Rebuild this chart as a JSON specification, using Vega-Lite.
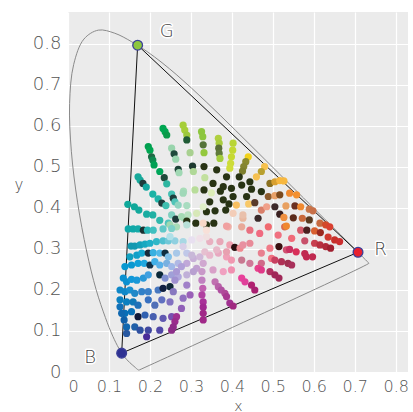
{
  "$schema": "https://vega.github.io/schema/vega-lite/v6.json",
  "width": 340,
  "height": 360,
  "autosize": {"type": "none"},
  "padding": {"left": 68, "top": 12, "right": 5, "bottom": 40},
  "background": "white",
  "config": {
    "view": {"fill": "#ebebeb", "stroke": null},
    "axis": {
      "domain": false, "ticks": false, "grid": true, "gridColor": "#ffffff", "gridWidth": 1.2,
      "labelFont": "DejaVu Sans", "labelFontSize": 18, "labelFontWeight": 200, "labelColor": "#555555",
      "titleFont": "DejaVu Sans", "titleFontSize": 15, "titleFontWeight": 200, "titleColor": "#444444"
    }
  },
  "layer": [
    {
      "data": {"values": [
        {"o":1,"x":0.1741,"y":0.0050},{"o":2,"x":0.1738,"y":0.0049},{"o":3,"x":0.1733,"y":0.0048},{"o":4,"x":0.1726,"y":0.0048},
        {"o":5,"x":0.1714,"y":0.0051},{"o":6,"x":0.1703,"y":0.0058},{"o":7,"x":0.1689,"y":0.0069},{"o":8,"x":0.1669,"y":0.0086},
        {"o":9,"x":0.1644,"y":0.0109},{"o":10,"x":0.1611,"y":0.0138},{"o":11,"x":0.1566,"y":0.0177},{"o":12,"x":0.1510,"y":0.0227},
        {"o":13,"x":0.1440,"y":0.0297},{"o":14,"x":0.1355,"y":0.0399},{"o":15,"x":0.1241,"y":0.0578},{"o":16,"x":0.1096,"y":0.0868},
        {"o":17,"x":0.0913,"y":0.1327},{"o":18,"x":0.0687,"y":0.2007},{"o":19,"x":0.0454,"y":0.2950},{"o":20,"x":0.0235,"y":0.4127},
        {"o":21,"x":0.0082,"y":0.5384},{"o":22,"x":0.0039,"y":0.6548},{"o":23,"x":0.0139,"y":0.7502},{"o":24,"x":0.0389,"y":0.8120},
        {"o":25,"x":0.0743,"y":0.8338},{"o":26,"x":0.1142,"y":0.8262},{"o":27,"x":0.1547,"y":0.8059},{"o":28,"x":0.1929,"y":0.7816},
        {"o":29,"x":0.2296,"y":0.7543},{"o":30,"x":0.2658,"y":0.7243},{"o":31,"x":0.3016,"y":0.6923},{"o":32,"x":0.3373,"y":0.6589},
        {"o":33,"x":0.3731,"y":0.6245},{"o":34,"x":0.4087,"y":0.5896},{"o":35,"x":0.4441,"y":0.5547},{"o":36,"x":0.4788,"y":0.5202},
        {"o":37,"x":0.5125,"y":0.4866},{"o":38,"x":0.5448,"y":0.4544},{"o":39,"x":0.5752,"y":0.4242},{"o":40,"x":0.6029,"y":0.3965},
        {"o":41,"x":0.6270,"y":0.3725},{"o":42,"x":0.6482,"y":0.3514},{"o":43,"x":0.6658,"y":0.3340},{"o":44,"x":0.6801,"y":0.3197},
        {"o":45,"x":0.6915,"y":0.3083},{"o":46,"x":0.7006,"y":0.2993},{"o":47,"x":0.7079,"y":0.2920},{"o":48,"x":0.7140,"y":0.2859},
        {"o":49,"x":0.7190,"y":0.2809},{"o":50,"x":0.7230,"y":0.2770},{"o":51,"x":0.7260,"y":0.2740},{"o":52,"x":0.7300,"y":0.2700},
        {"o":53,"x":0.7320,"y":0.2680},{"o":54,"x":0.7344,"y":0.2656},{"o":55,"x":0.7347,"y":0.2653},{"o":56,"x":0.1741,"y":0.0050}
      ]},
      "mark": {"type": "line", "color": "#8a8a8a", "strokeWidth": 1, "interpolate": "catmull-rom"},
      "encoding": {
        "x": {"field": "x", "type": "quantitative", "scale": {"domain": [0, 0.83], "nice": false, "zero": false},
              "axis": {"values": [0,0.1,0.2,0.3,0.4,0.5,0.6,0.7,0.8], "format": "~g", "labelFontSize": 16, "labelPadding": 6, "title": "x", "titleFontSize": 14, "titleY": 38, "titleBaseline": "alphabetic"}},
        "y": {"field": "y", "type": "quantitative", "scale": {"domain": [0, 0.878], "nice": false, "zero": false},
              "axis": {"values": [0,0.1,0.2,0.3,0.4,0.5,0.6,0.7,0.8], "format": "~g", "labelPadding": 7, "title": "y", "titleAngle": 0, "titlePadding": 14}},
        "order": {"field": "o", "type": "quantitative"}
      }
    },
    {
      "data": {"values": [
        {"o":1,"x":0.708,"y":0.292},{"o":2,"x":0.170,"y":0.797},{"o":3,"x":0.131,"y":0.046},{"o":4,"x":0.708,"y":0.292}
      ]},
      "mark": {"type": "line", "color": "#111111", "strokeWidth": 1},
      "encoding": {
        "x": {"field": "x", "type": "quantitative"},
        "y": {"field": "y", "type": "quantitative"},
        "order": {"field": "o", "type": "quantitative"}
      }
    },
    {
      "data": {"values": [
        {"x":0.232,"y":0.594,"c":"#00a651"},{"x":0.237,"y":0.586,"c":"#00a651"},{"x":0.241,"y":0.578,"c":"#0a9a4a"},
        {"x":0.281,"y":0.602,"c":"#a6ce39"},{"x":0.285,"y":0.590,"c":"#a6ce39"},{"x":0.290,"y":0.578,"c":"#9cc83c"},{"x":0.290,"y":0.566,"c":"#1f5a35"},
        {"x":0.326,"y":0.586,"c":"#8dc63f"},{"x":0.329,"y":0.574,"c":"#8dc63f"},{"x":0.330,"y":0.554,"c":"#55733a"},{"x":0.332,"y":0.535,"c":"#94c83d"},
        {"x":0.367,"y":0.570,"c":"#b0d040"},{"x":0.369,"y":0.558,"c":"#a8cc3e"},{"x":0.368,"y":0.546,"c":"#5a7038"},{"x":0.369,"y":0.533,"c":"#5f7a3a"},{"x":0.371,"y":0.521,"c":"#a3cd3c"},
        {"x":0.403,"y":0.558,"c":"#b9d535"},{"x":0.402,"y":0.541,"c":"#c3d833"},{"x":0.399,"y":0.525,"c":"#c6d932"},{"x":0.397,"y":0.509,"c":"#cddc39"},{"x":0.395,"y":0.497,"c":"#d0dd3a"},
        {"x":0.440,"y":0.525,"c":"#f2d21a"},{"x":0.434,"y":0.513,"c":"#8a8a2e"},{"x":0.429,"y":0.501,"c":"#858530"},{"x":0.426,"y":0.490,"c":"#7d7f2c"},
        {"x":0.196,"y":0.550,"c":"#009e4f"},{"x":0.200,"y":0.541,"c":"#00a651"},{"x":0.204,"y":0.525,"c":"#1e6a45"},{"x":0.207,"y":0.517,"c":"#0f8a50"},{"x":0.210,"y":0.505,"c":"#00a054"},
        {"x":0.224,"y":0.489,"c":"#00a65a"},{"x":0.235,"y":0.474,"c":"#1e4a3a"},{"x":0.241,"y":0.459,"c":"#2db6a0"},
        {"x":0.253,"y":0.546,"c":"#98d4ac"},{"x":0.259,"y":0.532,"c":"#1e4a3c"},{"x":0.263,"y":0.519,"c":"#9ad6b0"},{"x":0.269,"y":0.494,"c":"#1e4438"},{"x":0.271,"y":0.486,"c":"#a0d8b4"},{"x":0.282,"y":0.441,"c":"#a8dcb8"},
        {"x":0.298,"y":0.535,"c":"#a8d090"},{"x":0.304,"y":0.502,"c":"#1e3a30"},{"x":0.306,"y":0.489,"c":"#b0d898"},
        {"x":0.332,"y":0.501,"c":"#283314"},{"x":0.334,"y":0.474,"c":"#c2e09e"},{"x":0.332,"y":0.444,"c":"#283314"},{"x":0.350,"y":0.437,"c":"#dcecb8"},
        {"x":0.363,"y":0.493,"c":"#283314"},{"x":0.387,"y":0.476,"c":"#283314"},{"x":0.418,"y":0.476,"c":"#283314"},{"x":0.444,"y":0.464,"c":"#283314"},
        {"x":0.354,"y":0.460,"c":"#283314"},{"x":0.379,"y":0.452,"c":"#283314"},{"x":0.399,"y":0.448,"c":"#283314"},{"x":0.424,"y":0.456,"c":"#283314"},{"x":0.448,"y":0.446,"c":"#283314"},
        {"x":0.372,"y":0.441,"c":"#283314"},{"x":0.403,"y":0.428,"c":"#283314"},{"x":0.436,"y":0.428,"c":"#283314"},{"x":0.379,"y":0.420,"c":"#283314"},
        {"x":0.359,"y":0.393,"c":"#283314"},{"x":0.338,"y":0.391,"c":"#283314"},{"x":0.385,"y":0.395,"c":"#283314"},{"x":0.393,"y":0.410,"c":"#283314"},
        {"x":0.310,"y":0.444,"c":"#b8dd9a"},{"x":0.314,"y":0.387,"c":"#d7e8b8"},
        {"x":0.171,"y":0.476,"c":"#17a99a"},{"x":0.176,"y":0.468,"c":"#17a99a"},{"x":0.183,"y":0.460,"c":"#1e3c3c"},{"x":0.191,"y":0.451,"c":"#14a8a0"},
        {"x":0.207,"y":0.434,"c":"#1db3a5"},{"x":0.220,"y":0.422,"c":"#20b4a8"},{"x":0.229,"y":0.412,"c":"#1e3c3c"},{"x":0.239,"y":0.406,"c":"#3fbfb0"},
        {"x":0.253,"y":0.434,"c":"#45c0b4"},{"x":0.257,"y":0.424,"c":"#1e3e3e"},{"x":0.261,"y":0.415,"c":"#50c4b8"},{"x":0.269,"y":0.407,"c":"#90d4c0"},
        {"x":0.281,"y":0.436,"c":"#a0d8b8"},{"x":0.290,"y":0.406,"c":"#a8dcc0"},
        {"x":0.146,"y":0.409,"c":"#10a89a"},{"x":0.162,"y":0.403,"c":"#10a89a"},{"x":0.173,"y":0.395,"c":"#12a99c"},{"x":0.192,"y":0.385,"c":"#18aca0"},
        {"x":0.207,"y":0.383,"c":"#20b0a4"},{"x":0.224,"y":0.370,"c":"#30b8ac"},{"x":0.245,"y":0.363,"c":"#50c4bc"},
        {"x":0.253,"y":0.383,"c":"#80d0c0"},{"x":0.263,"y":0.373,"c":"#1e3a3a"},{"x":0.283,"y":0.376,"c":"#a0d8bc"},{"x":0.277,"y":0.379,"c":"#a4d9b4"},
        {"x":0.293,"y":0.383,"c":"#b8e0c0"},{"x":0.330,"y":0.403,"c":"#e0f0c8"},{"x":0.346,"y":0.415,"c":"#283314"},
        {"x":0.290,"y":0.368,"c":"#283314"},{"x":0.312,"y":0.363,"c":"#283314"},{"x":0.338,"y":0.359,"c":"#283314"},{"x":0.356,"y":0.363,"c":"#283314"},
        {"x":0.249,"y":0.359,"c":"#a0d8b0"},{"x":0.265,"y":0.354,"c":"#a8dcb8"},
        {"x":0.147,"y":0.349,"c":"#10a8a8"},{"x":0.159,"y":0.349,"c":"#10a8a8"},{"x":0.171,"y":0.349,"c":"#14aaa8"},{"x":0.184,"y":0.346,"c":"#1a3030"},
        {"x":0.194,"y":0.346,"c":"#28b4b4"},{"x":0.208,"y":0.346,"c":"#40c0c0"},{"x":0.232,"y":0.349,"c":"#60c8c8"},{"x":0.253,"y":0.350,"c":"#7dd0c8"},{"x":0.290,"y":0.359,"c":"#b8e0d8"},
        {"x":0.154,"y":0.307,"c":"#1298b0"},{"x":0.163,"y":0.307,"c":"#1298b0"},{"x":0.176,"y":0.310,"c":"#15a0b8"},{"x":0.188,"y":0.312,"c":"#18a8c0"},
        {"x":0.200,"y":0.314,"c":"#20b0c8"},{"x":0.216,"y":0.318,"c":"#30b8c8"},{"x":0.232,"y":0.320,"c":"#50c0d0"},{"x":0.245,"y":0.320,"c":"#70c8d8"},
        {"x":0.261,"y":0.320,"c":"#90d0e0"},{"x":0.281,"y":0.318,"c":"#a8d8e4"},
        {"x":0.151,"y":0.281,"c":"#10a0c0"},{"x":0.168,"y":0.285,"c":"#10a0c8"},{"x":0.180,"y":0.290,"c":"#18a8d0"},{"x":0.196,"y":0.290,"c":"#1a2a3a"},
        {"x":0.208,"y":0.291,"c":"#38b0e0"},{"x":0.224,"y":0.290,"c":"#50b8e8"},{"x":0.237,"y":0.290,"c":"#103040"},{"x":0.245,"y":0.281,"c":"#80c0e8"},
        {"x":0.265,"y":0.290,"c":"#a8c8e8"},{"x":0.290,"y":0.290,"c":"#c0c8e8"},
        {"x":0.139,"y":0.257,"c":"#0898d0"},{"x":0.155,"y":0.261,"c":"#0898d0"},{"x":0.171,"y":0.265,"c":"#10a0d8"},{"x":0.186,"y":0.265,"c":"#20a8e0"},
        {"x":0.200,"y":0.261,"c":"#103048"},{"x":0.212,"y":0.269,"c":"#40b0e8"},{"x":0.224,"y":0.261,"c":"#58b0e8"},{"x":0.241,"y":0.265,"c":"#78b0e0"},
        {"x":0.253,"y":0.257,"c":"#a0b8e8"},{"x":0.269,"y":0.265,"c":"#b0b8e4"},
        {"x":0.135,"y":0.229,"c":"#0a90d0"},{"x":0.143,"y":0.220,"c":"#0a90d0"},{"x":0.155,"y":0.226,"c":"#1098d8"},{"x":0.168,"y":0.224,"c":"#1898d8"},
        {"x":0.184,"y":0.229,"c":"#2898d8"},{"x":0.196,"y":0.237,"c":"#40a0e0"},{"x":0.224,"y":0.237,"c":"#0a2838"},{"x":0.237,"y":0.229,"c":"#8090d0"},
        {"x":0.253,"y":0.237,"c":"#a0a0d8"},{"x":0.269,"y":0.232,"c":"#b0a8dc"},{"x":0.290,"y":0.237,"c":"#c0b0d8"},
        {"x":0.127,"y":0.200,"c":"#1088c8"},{"x":0.139,"y":0.196,"c":"#1088c8"},{"x":0.151,"y":0.200,"c":"#1890d0"},{"x":0.163,"y":0.192,"c":"#2088c8"},
        {"x":0.180,"y":0.196,"c":"#3080c8"},{"x":0.196,"y":0.196,"c":"#3a80c8"},{"x":0.220,"y":0.200,"c":"#4878c0"},{"x":0.232,"y":0.204,"c":"#102040"},
        {"x":0.249,"y":0.208,"c":"#102838"},{"x":0.257,"y":0.196,"c":"#8878c0"},{"x":0.281,"y":0.180,"c":"#9070c0"},
        {"x":0.127,"y":0.176,"c":"#0a80c0"},{"x":0.143,"y":0.171,"c":"#0a80c0"},{"x":0.159,"y":0.171,"c":"#1078b8"},{"x":0.171,"y":0.163,"c":"#2070b8"},
        {"x":0.196,"y":0.176,"c":"#3870c0"},{"x":0.212,"y":0.163,"c":"#5070b8"},{"x":0.229,"y":0.176,"c":"#6070c0"},{"x":0.249,"y":0.171,"c":"#8070c0"},{"x":0.277,"y":0.155,"c":"#9060b8"},
        {"x":0.139,"y":0.143,"c":"#0870b8"},{"x":0.155,"y":0.147,"c":"#0870b8"},{"x":0.171,"y":0.135,"c":"#101838"},{"x":0.188,"y":0.139,"c":"#3060b0"},
        {"x":0.208,"y":0.135,"c":"#4860b0"},{"x":0.232,"y":0.131,"c":"#6058b0"},{"x":0.253,"y":0.135,"c":"#7850b0"},
        {"x":0.143,"y":0.110,"c":"#1068b0"},{"x":0.163,"y":0.110,"c":"#2060a8"},{"x":0.176,"y":0.102,"c":"#3050a0"},{"x":0.196,"y":0.102,"c":"#4048a0"},{"x":0.224,"y":0.102,"c":"#5048a8"},
        {"x":0.143,"y":0.094,"c":"#2858a0"},{"x":0.192,"y":0.086,"c":"#4a2c98"},{"x":0.127,"y":0.159,"c":"#1070b8"},{"x":0.131,"y":0.143,"c":"#1068b0"},{"x":0.137,"y":0.127,"c":"#1060a8"},
        {"x":0.265,"y":0.135,"c":"#a03090"},{"x":0.261,"y":0.123,"c":"#9a2c8c"},{"x":0.257,"y":0.110,"c":"#902c88"},{"x":0.253,"y":0.102,"c":"#8c2c88"},
        {"x":0.290,"y":0.265,"c":"#c0a8d8"},{"x":0.277,"y":0.257,"c":"#b0a0d8"},{"x":0.265,"y":0.245,"c":"#a898d4"},{"x":0.261,"y":0.224,"c":"#a090d0"},
        {"x":0.306,"y":0.277,"c":"#c8b0d8"},{"x":0.314,"y":0.253,"c":"#c0a0d0"},{"x":0.327,"y":0.224,"c":"#c080c0"},
        {"x":0.302,"y":0.285,"c":"#c8b8d8"},{"x":0.322,"y":0.281,"c":"#d0b8d8"},{"x":0.330,"y":0.265,"c":"#d0a8d0"},{"x":0.306,"y":0.245,"c":"#b8a0d0"},{"x":0.327,"y":0.245,"c":"#c898c8"},
        {"x":0.354,"y":0.249,"c":"#d8a0c8"},{"x":0.379,"y":0.245,"c":"#f0a0c0"},{"x":0.399,"y":0.249,"c":"#f090b0"},
        {"x":0.359,"y":0.220,"c":"#c070b0"},{"x":0.367,"y":0.208,"c":"#b860a8"},{"x":0.374,"y":0.200,"c":"#b050a0"},{"x":0.383,"y":0.192,"c":"#b04898"},
        {"x":0.387,"y":0.184,"c":"#a83890"},{"x":0.395,"y":0.168,"c":"#a03090"},{"x":0.403,"y":0.161,"c":"#a02880"},
        {"x":0.329,"y":0.204,"c":"#c060b0"},{"x":0.327,"y":0.188,"c":"#b040a0"},{"x":0.330,"y":0.171,"c":"#a83098"},{"x":0.330,"y":0.158,"c":"#a02890"},
        {"x":0.330,"y":0.143,"c":"#a02888"},{"x":0.330,"y":0.127,"c":"#a02888"},
        {"x":0.290,"y":0.212,"c":"#a080c8"},{"x":0.298,"y":0.188,"c":"#9a60b8"},
        {"x":0.330,"y":0.363,"c":"#f8d8c8"},{"x":0.391,"y":0.354,"c":"#f0b0a8"},{"x":0.424,"y":0.354,"c":"#e8a898"},{"x":0.468,"y":0.338,"c":"#f06a80"},{"x":0.513,"y":0.334,"c":"#f07080"},
        {"x":0.346,"y":0.318,"c":"#e8b0c0"},{"x":0.371,"y":0.318,"c":"#e8a8b8"},{"x":0.395,"y":0.310,"c":"#f0a0b0"},{"x":0.407,"y":0.304,"c":"#2a1010"},
        {"x":0.420,"y":0.302,"c":"#f08a90"},{"x":0.444,"y":0.314,"c":"#e88a98"},{"x":0.472,"y":0.290,"c":"#e88090"},{"x":0.493,"y":0.302,"c":"#f07a88"},{"x":0.515,"y":0.306,"c":"#3a1010"},
        {"x":0.334,"y":0.293,"c":"#e6c0d0"},{"x":0.346,"y":0.285,"c":"#e8b8cc"},{"x":0.367,"y":0.290,"c":"#e8a8c0"},{"x":0.387,"y":0.281,"c":"#f0a0b8"},
        {"x":0.399,"y":0.273,"c":"#f098b0"},{"x":0.424,"y":0.273,"c":"#c87890"},{"x":0.444,"y":0.265,"c":"#d07898"},{"x":0.472,"y":0.265,"c":"#d06888"},
        {"x":0.497,"y":0.277,"c":"#f07080"},{"x":0.521,"y":0.269,"c":"#b03055"},
        {"x":0.424,"y":0.229,"c":"#e8409a"},{"x":0.432,"y":0.220,"c":"#e0409a"},{"x":0.448,"y":0.212,"c":"#b02070"},{"x":0.456,"y":0.200,"c":"#a82070"},
        {"x":0.464,"y":0.253,"c":"#e8408a"},{"x":0.472,"y":0.249,"c":"#e03a88"},{"x":0.493,"y":0.245,"c":"#b03060"},{"x":0.505,"y":0.237,"c":"#a02858"},{"x":0.515,"y":0.229,"c":"#a02858"},
        {"x":0.505,"y":0.273,"c":"#c84060"},{"x":0.537,"y":0.265,"c":"#a03050"},{"x":0.533,"y":0.298,"c":"#d05070"},{"x":0.557,"y":0.293,"c":"#d8305a"},{"x":0.582,"y":0.281,"c":"#c02850"},
        {"x":0.427,"y":0.310,"c":"#e890a0"},{"x":0.387,"y":0.356,"c":"#f0a0a0"},{"x":0.427,"y":0.375,"c":"#e8b8a0"},{"x":0.444,"y":0.346,"c":"#e87080"},
        {"x":0.489,"y":0.354,"c":"#f06a70"},{"x":0.529,"y":0.354,"c":"#d86a50"},
        {"x":0.403,"y":0.387,"c":"#f3cdb8"},{"x":0.427,"y":0.383,"c":"#e9c0ab"},{"x":0.464,"y":0.375,"c":"#3a2a2a"},
        {"x":0.411,"y":0.407,"c":"#f8c060"},{"x":0.441,"y":0.410,"c":"#f8c868"},{"x":0.456,"y":0.413,"c":"#5a3a2a"},
        {"x":0.472,"y":0.395,"c":"#d97f6a"},{"x":0.485,"y":0.403,"c":"#f0a08a"},{"x":0.505,"y":0.403,"c":"#3d2a2a"},{"x":0.517,"y":0.385,"c":"#3a2020"},
        {"x":0.472,"y":0.440,"c":"#283314"},{"x":0.489,"y":0.428,"c":"#8b5a2b"},{"x":0.505,"y":0.430,"c":"#e9a26a"},{"x":0.517,"y":0.432,"c":"#7b4a1e"},
        {"x":0.541,"y":0.436,"c":"#f08a30"},{"x":0.558,"y":0.432,"c":"#f39030"},
        {"x":0.480,"y":0.501,"c":"#f7c14d"},{"x":0.472,"y":0.489,"c":"#b8a030"},{"x":0.460,"y":0.476,"c":"#f5c050"},
        {"x":0.493,"y":0.460,"c":"#8a7020"},{"x":0.505,"y":0.464,"c":"#d8a030"},{"x":0.517,"y":0.467,"c":"#f7b840"},{"x":0.527,"y":0.466,"c":"#f7b840"},
        {"x":0.532,"y":0.405,"c":"#e8a060"},{"x":0.554,"y":0.405,"c":"#6b3020"},{"x":0.568,"y":0.403,"c":"#f08a30"},{"x":0.589,"y":0.397,"c":"#c8784a"},{"x":0.598,"y":0.393,"c":"#c87048"},
        {"x":0.527,"y":0.377,"c":"#f09040"},{"x":0.550,"y":0.376,"c":"#5a2a1a"},{"x":0.572,"y":0.375,"c":"#c8683a"},{"x":0.589,"y":0.371,"c":"#5a3a20"},
        {"x":0.615,"y":0.363,"c":"#c86a40"},{"x":0.629,"y":0.359,"c":"#d24a2a"},{"x":0.639,"y":0.354,"c":"#d94030"},
        {"x":0.533,"y":0.356,"c":"#f08830"},{"x":0.568,"y":0.346,"c":"#d55a6a"},{"x":0.583,"y":0.346,"c":"#4a2020"},{"x":0.602,"y":0.344,"c":"#d86030"},{"x":0.616,"y":0.340,"c":"#9a2a20"},
        {"x":0.546,"y":0.326,"c":"#f06a78"},{"x":0.578,"y":0.320,"c":"#c8506a"},{"x":0.635,"y":0.329,"c":"#d03a30"},{"x":0.651,"y":0.322,"c":"#c8302a"},{"x":0.663,"y":0.318,"c":"#cc2f30"},
        {"x":0.602,"y":0.314,"c":"#c84050"},{"x":0.615,"y":0.310,"c":"#b83040"},{"x":0.629,"y":0.306,"c":"#b02a3a"},{"x":0.641,"y":0.302,"c":"#a02030"},
        {"x":0.541,"y":0.299,"c":"#c83060"},{"x":0.578,"y":0.289,"c":"#c02a50"},{"x":0.597,"y":0.281,"c":"#c02a50"},{"x":0.546,"y":0.261,"c":"#a8305a"},
        {"x":0.338,"y":0.330,"c":"#f0e0e0"},{"x":0.322,"y":0.326,"c":"#f0e0e8"},{"x":0.302,"y":0.322,"c":"#e8e0f0"},{"x":0.338,"y":0.346,"c":"#f8e0d8"},
        {"x":0.281,"y":0.306,"c":"#d8d0e8"},{"x":0.249,"y":0.330,"c":"#b0e0e8"},{"x":0.363,"y":0.298,"c":"#e8b8c8"},{"x":0.387,"y":0.293,"c":"#e8a0b0"}
      ]},
      "mark": {"type": "circle", "size": 52, "opacity": 1},
      "encoding": {
        "x": {"field": "x", "type": "quantitative"},
        "y": {"field": "y", "type": "quantitative"},
        "color": {"field": "c", "type": "nominal", "scale": null}
      }
    },
    {
      "data": {"values": [
        {"x":0.708,"y":0.292,"c":"#e8202e"},{"x":0.170,"y":0.797,"c":"#8dc63f"},{"x":0.131,"y":0.046,"c":"#2e3192"}
      ]},
      "mark": {"type": "circle", "size": 95, "opacity": 1, "stroke": "#3b3f98", "strokeWidth": 1.3},
      "encoding": {
        "x": {"field": "x", "type": "quantitative"},
        "y": {"field": "y", "type": "quantitative"},
        "color": {"field": "c", "type": "nominal", "scale": null}
      }
    },
    {
      "data": {"values": [
        {"x":0.241,"y":0.829,"t":"G"},{"x":0.763,"y":0.298,"t":"R"},{"x":0.054,"y":0.034,"t":"B"}
      ]},
      "mark": {"type": "text", "font": "DejaVu Sans", "fontSize": 18, "fontWeight": 200, "color": "#ffffff", "stroke": "#ffffff", "strokeWidth": 3, "strokeJoin": "round"},
      "encoding": {
        "x": {"field": "x", "type": "quantitative"},
        "y": {"field": "y", "type": "quantitative"},
        "text": {"field": "t"}
      }
    },
    {
      "data": {"values": [
        {"x":0.241,"y":0.829,"t":"G"},{"x":0.763,"y":0.298,"t":"R"},{"x":0.054,"y":0.034,"t":"B"}
      ]},
      "mark": {"type": "text", "font": "DejaVu Sans", "fontSize": 18, "fontWeight": 200, "color": "#444444"},
      "encoding": {
        "x": {"field": "x", "type": "quantitative"},
        "y": {"field": "y", "type": "quantitative"},
        "text": {"field": "t"}
      }
    }
  ]
}
